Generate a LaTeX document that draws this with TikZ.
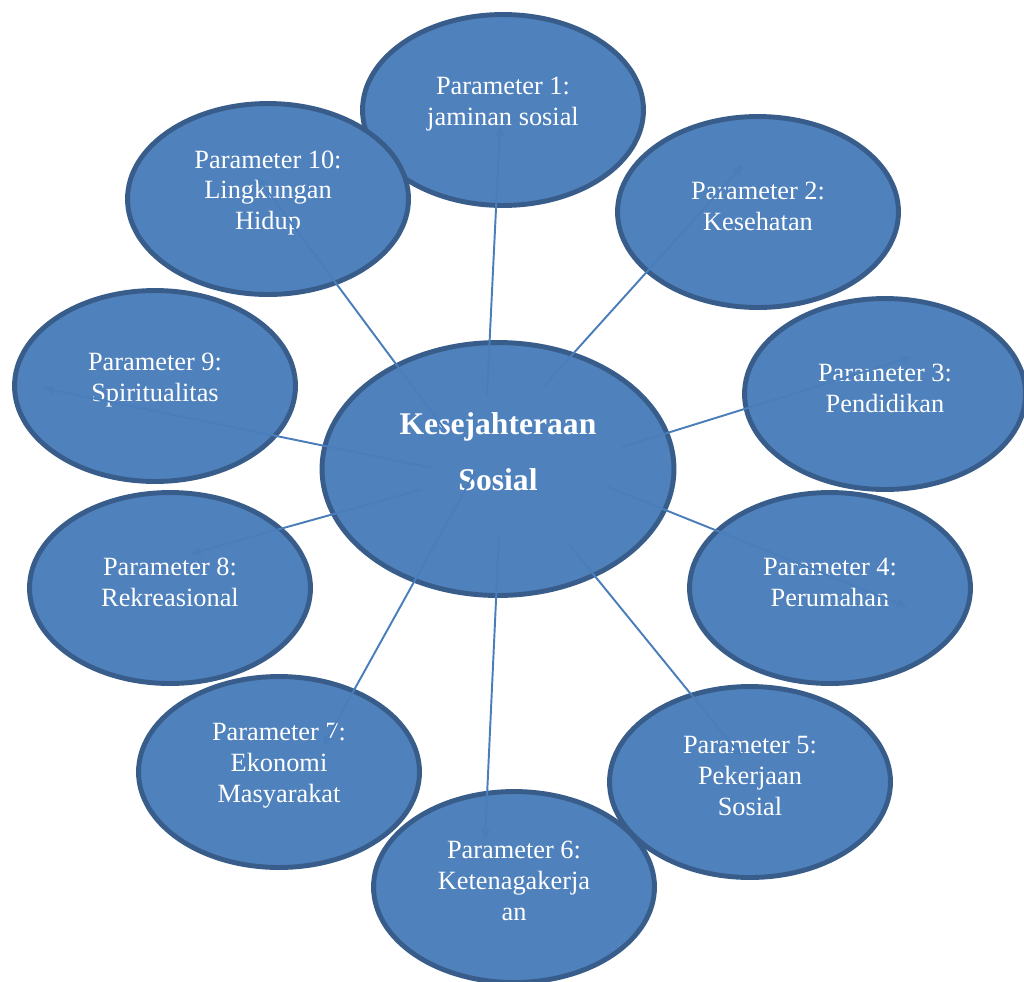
\documentclass[tikz,border=0pt]{standalone}
\usepackage{fontspec}
\setmainfont{Liberation Serif}
\usetikzlibrary{arrows.meta,shapes.geometric,calc}

\definecolor{ovalfill}{RGB}{79,129,189}
\definecolor{ovalline}{RGB}{56,93,138}
\definecolor{linkblue}{RGB}{74,126,187}

\begin{document}
\begin{tikzpicture}[
  x=0.02cm, y=-0.02cm,
  param/.style={ellipse, draw=ovalline, fill=ovalfill, line width=2.8pt, minimum width=5.62cm, minimum height=3.82cm, inner sep=0pt},
  hubshape/.style={param, minimum width=7.04cm, minimum height=5.06cm},
  ptext/.style={text=white, align=center, inner sep=0pt, font=\fontsize{15}{17.6}\selectfont},
  htext/.style={ptext, font=\bfseries\fontsize{18}{31.7}\selectfont},
  link/.style={draw=linkblue, line width=1.1pt, ->},
  >={Triangle[length=6pt,width=5pt]}
]
\useasboundingbox (0,0) rectangle (1024,981);

% ovals, later ones lie on top
\node[hubshape] (hub) at (498,469) {};
\node[param] (p7) at (279,772) {};
\node[param] (p8) at (170,588) {};
\node[param] (p9) at (155,386) {};
\node[param] (p1) at (503,110) {};
\node[param] (p10) at (268,199) {};
\node[param] (p2) at (758,212) {};
\node[param] (p3) at (885,394) {};
\node[param] (p4) at (830,588) {};
\node[param] (p5) at (750,782) {};
\node[param] (p6) at (514,887) {};

% texts sit a little above the middle
\node[htext] (hubtext) at ($(hub)+(0,-17)$) {Kesejahteraan\\Sosial};
\node[ptext] (t1) at ($(p1)+(0,-6)$) {Parameter 1:\\jaminan sosial};
\node[ptext] (t2) at ($(p2)+(0,-6)$) {Parameter 2:\\Kesehatan};
\node[ptext] (t3) at ($(p3)+(0,-6)$) {Parameter 3:\\Pendidikan};
\node[ptext] (t4) at ($(p4)+(0,-6)$) {Parameter 4:\\Perumahan};
\node[ptext] (t5) at ($(p5)+(0,-6)$) {Parameter 5:\\Pekerjaan\\Sosial};
\node[ptext] (t6) at ($(p6)+(0,-6)$) {Parameter 6:\\Ketenagakerja\\an};
\node[ptext] (t7) at ($(p7)+(0,-6)$) {Parameter 7:\\Ekonomi\\Masyarakat};
\node[ptext] (t8) at ($(p8)+(0,-6)$) {Parameter 8:\\Rekreasional};
\node[ptext] (t9) at ($(p9)+(0,-6)$) {Parameter 9:\\Spiritualitas};
\node[ptext] (t10) at ($(p10)+(0,-6)$) {Parameter 10:\\Lingkungan\\Hidup};

% spokes
\draw[link] ($(hub)+(-11,-74)$) -- ($(p1)+(-3,16)$);
\draw[link] ($(hub)+(46,-83)$) -- ($(p2)+(-15,-47)$);
\draw[link] ($(hub)+(124,-22)$) -- ($(p3)+(27,-37)$);
\draw[link] ($(hub)+(110,18)$) -- ($(p4)+(77,19)$);
\draw[link] ($(hub)+(70,74)$) -- ($(p5)+(-8,-25)$);
\draw[link] ($(hub)+(1,66)$) -- ($(p6)+(-29,-47)$);
\draw[link] ($(hub)+(-23,3)$) -- ($(p7)+(44,-26)$);
\draw[link] ($(hub)+(-78,21)$) -- ($(p8)+(20,-34)$);
\draw[link] ($(hub)+(-66,-1)$) -- ($(p9)+(-112,2)$);
\draw[link] ($(hub)+(-53,-39)$) -- ($(p10)+(-11,-22)$);
\end{tikzpicture}
\end{document}
